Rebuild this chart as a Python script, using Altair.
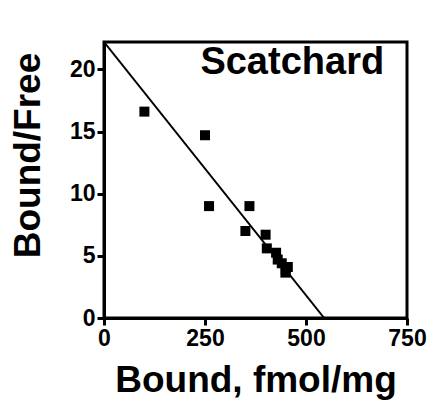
import altair as alt
import pandas as pd

# data
bound = [100, 250, 260, 360, 350, 400, 403, 426, 430, 440, 450, 455, 449]
bound_free = [16.6, 14.7, 9.0, 9.0, 7.0, 6.7, 5.6, 5.25, 4.7, 4.4, 3.9, 4.1, 3.65]

fit_x = [0, 545]
fit_y = [22.2, 0]

x_ticks = [0, 250, 500, 750]
y_ticks = [0, 5, 10, 15, 20]

label_text = ["Scatchard"]
label_x = [466]
label_y = [19.6]

pts = pd.DataFrame({"x": bound, "y": bound_free})
fit = pd.DataFrame({"x": fit_x, "y": fit_y})
lab = pd.DataFrame({"x": label_x, "y": label_y, "t": label_text})

FONT = "Liberation Sans"

xs = alt.Scale(domain=[0, 750], nice=False, zero=False)
ys = alt.Scale(domain=[0, 22.2], nice=False, zero=False)

xax = alt.Axis(values=x_ticks, title="Bound, fmol/mg", grid=False,
               labelFontSize=23, labelFont=FONT, labelFontWeight="bold",
               titleFontSize=37, titleFont=FONT, titleFontWeight="bold",
               domainWidth=3, domainColor="black", tickWidth=3, tickColor="black",
               tickSize=7, labelColor="black", titleColor="black",
               labelPadding=2, titlePadding=12, labelFlush=False)
yax = alt.Axis(values=y_ticks, title="Bound/Free", grid=False,
               labelFontSize=23, labelFont=FONT, labelFontWeight="bold",
               titleFontSize=37, titleFont=FONT, titleFontWeight="bold",
               domainWidth=3, domainColor="black", tickWidth=3, tickColor="black",
               tickSize=7, labelColor="black", titleColor="black",
               labelPadding=2, titlePadding=22, titleY=113, labelFlush=False)

points = alt.Chart(pts).mark_square(size=100, color="black", opacity=1).encode(
    x=alt.X("x:Q", scale=xs, axis=xax),
    y=alt.Y("y:Q", scale=ys, axis=yax),
)

line = alt.Chart(fit).mark_line(color="black", strokeWidth=2, clip=True).encode(
    x=alt.X("x:Q", scale=xs),
    y=alt.Y("y:Q", scale=ys),
)

text = alt.Chart(lab).mark_text(font=FONT, fontSize=38, fontWeight="bold",
                                 color="black", align="center",
                                 baseline="alphabetic").encode(
    x=alt.X("x:Q", scale=xs),
    y=alt.Y("y:Q", scale=ys),
    text="t:N",
)

chart = alt.layer(line, points, text).properties(
    width=303, height=276,
    autosize=alt.AutoSizeParams(type="none"),
    padding={"left": 104, "top": 42, "right": 23, "bottom": 88},
    background="white",
).configure_view(stroke="black", strokeWidth=3)

chart.save("out.html", embed_options={"renderer": "svg", "actions": False})
